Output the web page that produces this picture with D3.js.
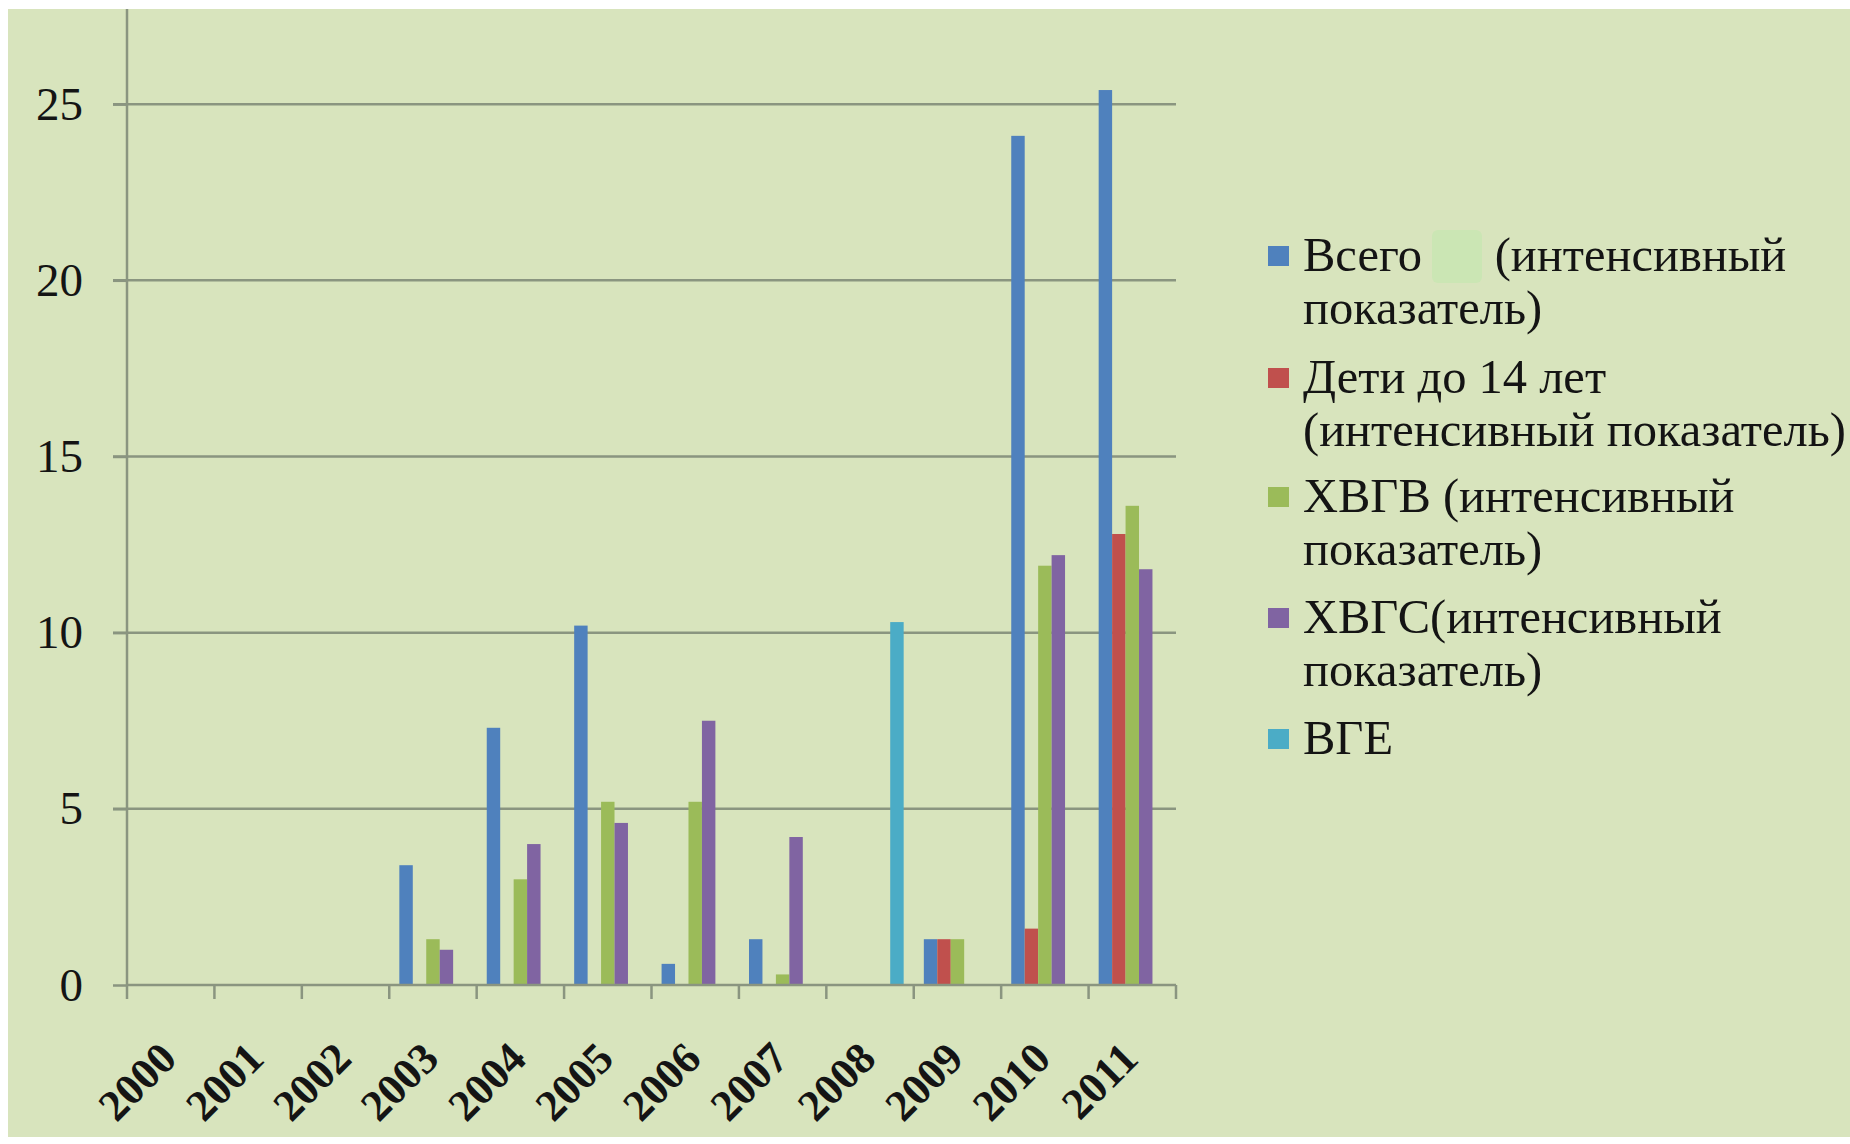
<!DOCTYPE html>
<html>
<head>
<meta charset="utf-8">
<script src="https://cdn.jsdelivr.net/npm/d3@7"></script>
<style>
    html, body { margin: 0; padding: 0; background: #ffffff; }
    #chart { width: 1850px; height: 1144px; }
    text { font-family: "Liberation Serif", "Times New Roman", serif; fill: #141414; }
</style>
</head>
<body>
<div id="chart"></div>
<script>

// categories
const years = ["2000", "2001", "2002", "2003", "2004", "2005", "2006", "2007", "2008", "2009", "2010", "2011"];

// series values
const total    = [0, 0, 0, 3.4, 7.3, 10.2, 0.6, 1.3, 0, 1.3, 24.1, 25.4];
const children = [0, 0, 0, 0, 0, 0, 0, 0, 0, 1.3, 1.6, 12.8];
const hbv      = [0, 0, 0, 1.3, 3.0, 5.2, 5.2, 0.3, 0, 1.3, 11.9, 13.6];
const hcv      = [0, 0, 0, 1.0, 4.0, 4.6, 7.5, 4.2, 0, 0, 12.2, 11.8];
const hev      = [0, 0, 0, 0, 0, 0, 0, 0, 10.3, 0, 0, 0];

const seriesKeys = ["total", "children", "hbv", "hcv", "hev"];
const seriesValues = [total, children, hbv, hcv, hev];
const seriesColors = ["#4f81bd", "#c0504d", "#9bbb59", "#8064a2", "#4bacc6"];

// legend text, one array of lines per series
const legendLines = [
    ["Всего      (интенсивный", "показатель)"],
    ["Дети до 14 лет", "(интенсивный показатель)"],
    ["ХВГВ (интенсивный", "показатель)"],
    ["ХВГС(интенсивный", "показатель)"],
    ["ВГЕ"]
];

// y tick labels
const yTicks = [0, 5, 10, 15, 20, 25];

// sizes
const width = 1850;
const height = 1144;
const plot = { left: 127, right: 1176, top: 9, bottom: 985 };

const svg = d3.select("#chart")
    .append("svg")
    .attr("width", width)
    .attr("height", height);

// background panel
svg.append("rect")
    .attr("x", 8)
    .attr("y", 9)
    .attr("width", width - 8)
    .attr("height", height - 16)
    .attr("fill", "#d8e4bd");

// scales
const x0 = d3.scaleBand()
    .domain(years)
    .range([plot.left, plot.right])
    .padding(0);

const x1 = d3.scaleBand()
    .domain(seriesKeys)
    .range([0, x0.bandwidth()])
    .paddingInner(0)
    .paddingOuter(0.75);

const y = d3.scaleLinear()
    .domain([0, 27.7])
    .range([plot.bottom, plot.top]);

const lineColor = "#8a9580";

// gridlines
svg.append("g")
    .attr("id", "grid")
    .selectAll("line")
    .data(yTicks.filter(d => d > 0))
    .enter().append("line")
    .attr("x1", plot.left - 14)
    .attr("x2", plot.right)
    .attr("y1", d => y(d))
    .attr("y2", d => y(d))
    .attr("stroke", lineColor)
    .attr("stroke-width", 2.5);

// bars
const rows = years.map((yr, i) => ({
    year: yr,
    values: seriesKeys.map((k, j) => ({ key: k, value: seriesValues[j][i], color: seriesColors[j] }))
}));

svg.append("g")
    .attr("id", "bars")
    .selectAll("g")
    .data(rows)
    .enter().append("g")
    .attr("transform", d => `translate(${x0(d.year)},0)`)
    .selectAll("rect")
    .data(d => d.values.filter(v => v.value > 0))
    .enter().append("rect")
    .attr("x", d => x1(d.key))
    .attr("width", x1.bandwidth())
    .attr("y", d => y(d.value))
    .attr("height", d => y(0) - y(d.value))
    .attr("fill", d => d.color);

// y axis
const yAxis = d3.axisLeft(y)
    .tickValues(yTicks)
    .tickSize(14)
    .tickPadding(30)
    .tickFormat(d3.format("d"));

const gy = svg.append("g")
    .attr("transform", `translate(${plot.left},0)`)
    .call(yAxis);

gy.select(".domain").remove();
gy.selectAll(".tick line").attr("stroke", lineColor).attr("stroke-width", 2.5);
gy.selectAll(".tick text")
    .attr("font-size", 47)
    .attr("fill", "#141414");

gy.append("line")
    .attr("x1", 0).attr("x2", 0)
    .attr("y1", plot.top).attr("y2", plot.bottom)
    .attr("stroke", lineColor)
    .attr("stroke-width", 2.5);

// x axis: line and ticks at category boundaries
const gx = svg.append("g").attr("id", "x-axis");

gx.append("line")
    .attr("x1", plot.left).attr("x2", plot.right)
    .attr("y1", y(0)).attr("y2", y(0))
    .attr("stroke", lineColor)
    .attr("stroke-width", 2.5);

gx.selectAll(".xtick")
    .data(years.concat(["end"]))
    .enter().append("line")
    .attr("class", "xtick")
    .attr("x1", (d, i) => plot.left + i * x0.step())
    .attr("x2", (d, i) => plot.left + i * x0.step())
    .attr("y1", y(0))
    .attr("y2", y(0) + 14)
    .attr("stroke", lineColor)
    .attr("stroke-width", 2.5);

gx.selectAll(".xlabel")
    .data(years)
    .enter().append("text")
    .attr("class", "xlabel")
    .attr("text-anchor", "end")
    .attr("font-size", 44)
    .attr("font-weight", "bold")
    .attr("transform", d => `translate(${x0(d) + x0.bandwidth() / 2 + 8},${y(0) + 76}) rotate(-45)`)
    .text(d => d);

// legend
const legend = svg.append("g")
    .attr("id", "legend")
    .attr("transform", "translate(1268,0)");

// faint light-green patch seen behind the first legend entry
legend.append("rect")
    .attr("x", 164)
    .attr("y", 230)
    .attr("width", 50)
    .attr("height", 53)
    .attr("rx", 6)
    .attr("fill", "#cbe6b4");

const entryTop = [256, 378, 497, 618, 739];

const items = legend.selectAll(".item")
    .data(legendLines)
    .enter().append("g")
    .attr("class", "item")
    .attr("transform", (d, i) => `translate(0,${entryTop[i]})`);

items.append("rect")
    .attr("x", 0)
    .attr("y", -10)
    .attr("width", 21)
    .attr("height", 20)
    .attr("fill", (d, i) => seriesColors[i]);

items.append("text")
    .attr("font-size", 48.5)
    .style("white-space", "pre")
    .selectAll("tspan")
    .data(d => d)
    .enter().append("tspan")
    .attr("x", 35)
    .attr("y", (d, i) => 15 + i * 53)
    .text(d => d);

</script>
</body>
</html>
